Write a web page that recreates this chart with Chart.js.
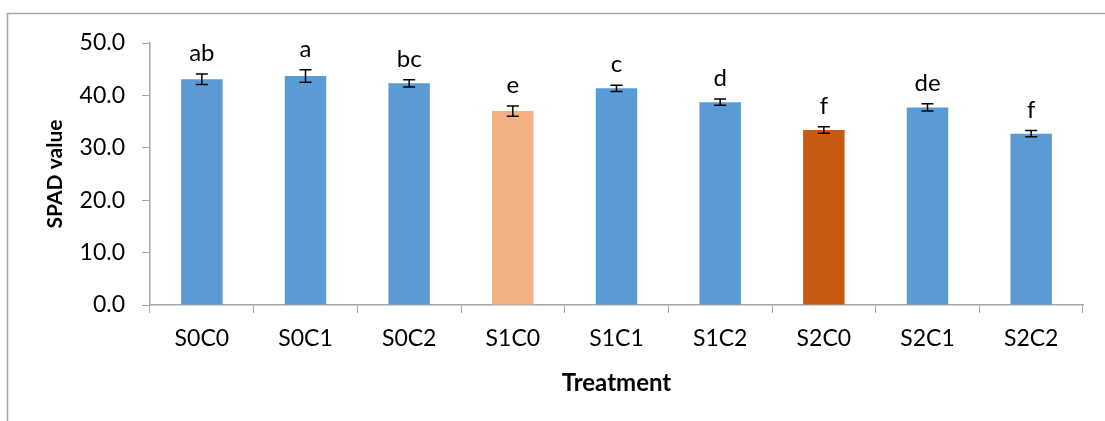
<!DOCTYPE html>
<html>
<head>
<meta charset="utf-8">
<script src="https://cdn.jsdelivr.net/npm/chart.js@4.4.0/dist/chart.umd.min.js"></script>
<style>
  html, body { margin: 0; padding: 0; background: #ffffff; }
  #wrap { position: relative; width: 1105px; height: 421px; }
</style>
</head>
<body>
<div id="wrap"><canvas id="c" width="1105" height="421"></canvas></div>
<script>
const categories = ['S0C0', 'S0C1', 'S0C2', 'S1C0', 'S1C1', 'S1C2', 'S2C0', 'S2C1', 'S2C2'];
const spadValues = [43.1, 43.7, 42.3, 37.0, 41.35, 38.7, 33.4, 37.7, 32.7];
const spadErrors = [1.0, 1.2, 0.7, 1.0, 0.6, 0.6, 0.6, 0.7, 0.6];
const groupLetters = ['ab', 'a', 'bc', 'e', 'c', 'd', 'f', 'de', 'f'];
const barColors = ['#5b9bd5', '#5b9bd5', '#5b9bd5', '#f4b183', '#5b9bd5', '#5b9bd5', '#c55a11', '#5b9bd5', '#5b9bd5'];
const yTicks = [0, 10, 20, 30, 40, 50];

const FONT = 'Lato, "Open Sans", "Liberation Sans", sans-serif';

const frame = {
  id: 'frame',
  beforeDraw(chart) {
    const ctx = chart.ctx;
    ctx.save();
    ctx.strokeStyle = '#a6a6a6';
    ctx.lineWidth = 1.5;
    ctx.beginPath();
    ctx.moveTo(7.5, 421);
    ctx.lineTo(7.5, 13.5);
    ctx.lineTo(1105, 13.5);
    ctx.stroke();
    ctx.restore();
  }
};

const errorsAndLetters = {
  id: 'errorsAndLetters',
  afterDatasetsDraw(chart) {
    const ctx = chart.ctx;
    const meta = chart.getDatasetMeta(0);
    const y = chart.scales.y;
    ctx.save();
    ctx.strokeStyle = '#000000';
    ctx.lineWidth = 1.5;
    meta.data.forEach((bar, i) => {
      const x = bar.x;
      const hi = y.getPixelForValue(spadValues[i] + spadErrors[i]);
      const lo = y.getPixelForValue(spadValues[i] - spadErrors[i]);
      ctx.beginPath();
      ctx.moveTo(x, hi); ctx.lineTo(x, lo);
      ctx.moveTo(x - 6, hi); ctx.lineTo(x + 6, hi);
      ctx.moveTo(x - 6, lo); ctx.lineTo(x + 6, lo);
      ctx.stroke();
      ctx.fillStyle = '#000000';
      ctx.font = '24px ' + FONT;
      ctx.textAlign = 'center';
      ctx.textBaseline = 'alphabetic';
      ctx.fillText(groupLetters[i], x, hi - 13);
    });
    ctx.restore();
  }
};

new Chart(document.getElementById('c'), {
  type: 'bar',
  data: {
    labels: categories,
    datasets: [{
      data: spadValues,
      backgroundColor: barColors,
      borderWidth: 0,
      categoryPercentage: 1.0,
      barPercentage: 0.4
    }]
  },
  options: {
    responsive: false,
    animation: false,
    devicePixelRatio: 1,
    layout: { padding: { left: 0, right: 22, top: 43, bottom: 0 } },
    plugins: { legend: { display: false }, tooltip: { enabled: false } },
    scales: {
      x: {
        grid: { drawOnChartArea: false, drawTicks: true, tickLength: 8, color: '#a6a6a6', offset: true },
        border: { display: true, color: '#a6a6a6', width: 1.5 },
        ticks: { color: '#000000', font: { family: FONT, size: 23 }, padding: 12, maxRotation: 0 },
        title: { display: true, text: 'Treatment', color: '#000000', font: { family: FONT, size: 24, weight: 'bold' }, padding: { top: 4, bottom: 23 } },
        afterFit(scale) { scale.height = 116; }
      },
      y: {
        min: 0, max: 50,
        afterBuildTicks(scale) { scale.ticks = yTicks.map(v => ({ value: v })); },
        grid: { drawOnChartArea: false, drawTicks: true, tickLength: 8, color: '#a6a6a6' },
        border: { display: true, color: '#a6a6a6', width: 1.5 },
        ticks: { color: '#000000', font: { family: FONT, size: 23 }, padding: 17, callback: v => Number(v).toFixed(1) },
        title: { display: true, text: 'SPAD value', color: '#000000', font: { family: FONT, size: 21, weight: 'bold' }, padding: { top: 43, bottom: 0 } },
        afterFit(scale) { scale.width = 150; }
      }
    }
  },
  plugins: [frame, errorsAndLetters]
});
</script>
</body>
</html>
